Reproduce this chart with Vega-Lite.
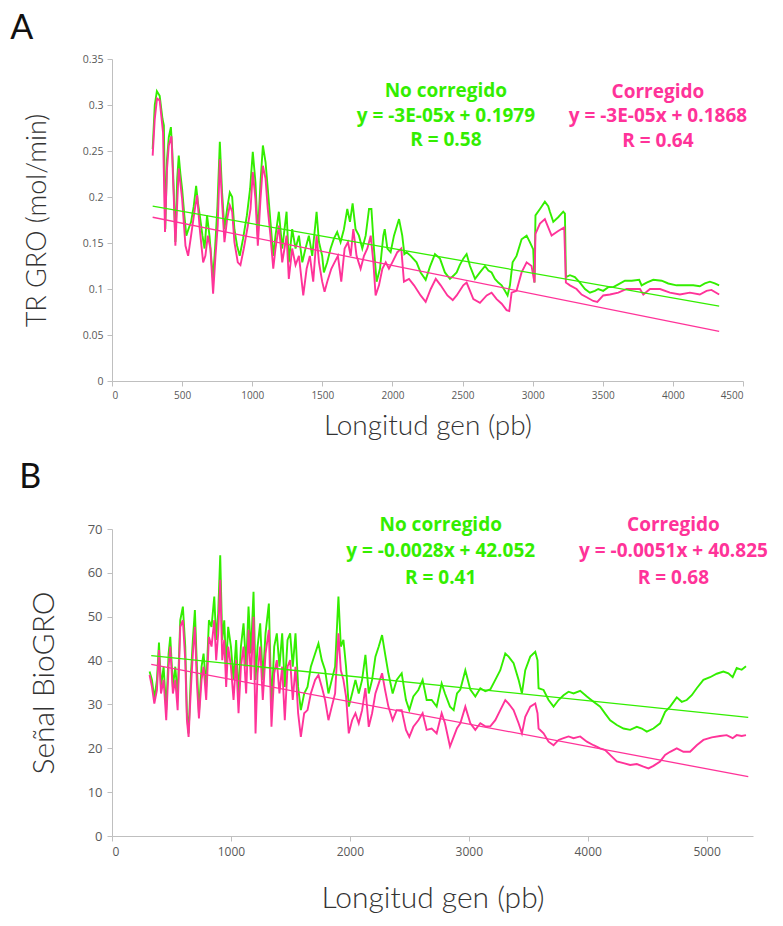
{
  "$schema": "https://vega.github.io/schema/vega-lite/v6.json",
  "padding": {"left": 10, "top": 12, "right": 0, "bottom": 0},
  "background": "white",
  "spacing": 21,
  "config": {
    "view": {"stroke": null},
    "axis": {
      "grid": false,
      "domainColor": "#BFBFBF",
      "tickColor": "#BFBFBF",
      "tickSize": 5,
      "labelColor": "#595959",
      "labelFont": "Liberation Sans Narrow, Open Sans",
      "titleFont": "Lato",
      "titleFontWeight": 300,
      "titleColor": "#333333"
    },
    "title": {"font": "Lato", "fontWeight": "normal", "color": "#111111", "anchor": "start", "frame": "bounds"}
  },
  "datasets": {
    "A_sin": [
      {"x":290,"y":0.252},{"x":305,"y":0.300},{"x":320,"y":0.315},{"x":340,"y":0.310},{"x":360,"y":0.285},{"x":370,"y":0.278},{"x":380,"y":0.165},{"x":392,"y":0.240},{"x":405,"y":0.265},{"x":420,"y":0.276},{"x":430,"y":0.250},{"x":440,"y":0.209},{"x":452,"y":0.151},{"x":465,"y":0.220},{"x":476,"y":0.245},{"x":488,"y":0.225},{"x":500,"y":0.209},{"x":516,"y":0.180},{"x":530,"y":0.158},{"x":545,"y":0.165},{"x":564,"y":0.173},{"x":583,"y":0.190},{"x":600,"y":0.212},{"x":612,"y":0.195},{"x":626,"y":0.180},{"x":645,"y":0.158},{"x":660,"y":0.144},{"x":678,"y":0.180},{"x":695,"y":0.158},{"x":720,"y":0.111},{"x":735,"y":0.144},{"x":752,"y":0.190},{"x":769,"y":0.260},{"x":785,"y":0.205},{"x":802,"y":0.165},{"x":821,"y":0.187},{"x":840,"y":0.205},{"x":857,"y":0.200},{"x":873,"y":0.165},{"x":892,"y":0.147},{"x":911,"y":0.136},{"x":935,"y":0.155},{"x":962,"y":0.180},{"x":985,"y":0.209},{"x":1004,"y":0.249},{"x":1023,"y":0.216},{"x":1040,"y":0.158},{"x":1059,"y":0.216},{"x":1076,"y":0.256},{"x":1095,"y":0.238},{"x":1111,"y":0.209},{"x":1130,"y":0.173},{"x":1150,"y":0.136},{"x":1166,"y":0.158},{"x":1190,"y":0.184},{"x":1214,"y":0.144},{"x":1245,"y":0.184},{"x":1261,"y":0.129},{"x":1285,"y":0.165},{"x":1309,"y":0.144},{"x":1333,"y":0.158},{"x":1357,"y":0.129},{"x":1380,"y":0.144},{"x":1404,"y":0.158},{"x":1428,"y":0.136},{"x":1459,"y":0.184},{"x":1476,"y":0.151},{"x":1499,"y":0.136},{"x":1511,"y":0.118},{"x":1535,"y":0.129},{"x":1559,"y":0.144},{"x":1583,"y":0.155},{"x":1606,"y":0.162},{"x":1630,"y":0.151},{"x":1654,"y":0.165},{"x":1678,"y":0.187},{"x":1697,"y":0.173},{"x":1716,"y":0.193},{"x":1737,"y":0.165},{"x":1761,"y":0.158},{"x":1785,"y":0.144},{"x":1809,"y":0.158},{"x":1833,"y":0.187},{"x":1850,"y":0.187},{"x":1868,"y":0.144},{"x":1887,"y":0.108},{"x":1911,"y":0.122},{"x":1935,"y":0.158},{"x":1945,"y":0.165},{"x":1964,"y":0.144},{"x":1987,"y":0.140},{"x":2011,"y":0.158},{"x":2047,"y":0.176},{"x":2070,"y":0.158},{"x":2085,"y":0.138},{"x":2101,"y":0.140},{"x":2130,"y":0.136},{"x":2172,"y":0.129},{"x":2201,"y":0.118},{"x":2237,"y":0.110},{"x":2267,"y":0.124},{"x":2303,"y":0.138},{"x":2339,"y":0.133},{"x":2374,"y":0.118},{"x":2410,"y":0.111},{"x":2438,"y":0.115},{"x":2458,"y":0.118},{"x":2480,"y":0.126},{"x":2505,"y":0.133},{"x":2529,"y":0.138},{"x":2553,"y":0.125},{"x":2589,"y":0.111},{"x":2624,"y":0.118},{"x":2660,"y":0.125},{"x":2684,"y":0.120},{"x":2707,"y":0.118},{"x":2731,"y":0.111},{"x":2755,"y":0.107},{"x":2779,"y":0.104},{"x":2802,"y":0.098},{"x":2821,"y":0.093},{"x":2838,"y":0.104},{"x":2857,"y":0.129},{"x":2885,"y":0.136},{"x":2921,"y":0.154},{"x":2957,"y":0.158},{"x":2980,"y":0.151},{"x":3004,"y":0.143},{"x":3013,"y":0.107},{"x":3020,"y":0.180},{"x":3052,"y":0.187},{"x":3087,"y":0.195},{"x":3111,"y":0.190},{"x":3123,"y":0.184},{"x":3147,"y":0.173},{"x":3182,"y":0.178},{"x":3218,"y":0.184},{"x":3230,"y":0.182},{"x":3237,"y":0.113},{"x":3266,"y":0.115},{"x":3301,"y":0.113},{"x":3337,"y":0.107},{"x":3373,"y":0.100},{"x":3408,"y":0.096},{"x":3444,"y":0.098},{"x":3468,"y":0.100},{"x":3503,"y":0.098},{"x":3539,"y":0.102},{"x":3575,"y":0.102},{"x":3611,"y":0.105},{"x":3658,"y":0.109},{"x":3706,"y":0.109},{"x":3760,"y":0.110},{"x":3777,"y":0.104},{"x":3813,"y":0.107},{"x":3860,"y":0.110},{"x":3920,"y":0.109},{"x":3967,"y":0.106},{"x":4026,"y":0.104},{"x":4086,"y":0.104},{"x":4145,"y":0.104},{"x":4192,"y":0.103},{"x":4228,"y":0.106},{"x":4264,"y":0.108},{"x":4299,"y":0.106},{"x":4330,"y":0.104}
    ],
    "A_cor": [
      {"x":290,"y":0.245},{"x":305,"y":0.285},{"x":321,"y":0.307},{"x":340,"y":0.305},{"x":364,"y":0.270},{"x":378,"y":0.162},{"x":392,"y":0.230},{"x":405,"y":0.256},{"x":424,"y":0.266},{"x":440,"y":0.202},{"x":452,"y":0.147},{"x":476,"y":0.231},{"x":500,"y":0.198},{"x":524,"y":0.147},{"x":543,"y":0.136},{"x":564,"y":0.158},{"x":588,"y":0.184},{"x":607,"y":0.202},{"x":626,"y":0.165},{"x":650,"y":0.129},{"x":666,"y":0.136},{"x":683,"y":0.158},{"x":702,"y":0.144},{"x":721,"y":0.095},{"x":738,"y":0.136},{"x":754,"y":0.169},{"x":769,"y":0.241},{"x":785,"y":0.194},{"x":802,"y":0.151},{"x":821,"y":0.176},{"x":840,"y":0.191},{"x":857,"y":0.184},{"x":873,"y":0.151},{"x":897,"y":0.129},{"x":916,"y":0.126},{"x":940,"y":0.144},{"x":969,"y":0.169},{"x":988,"y":0.187},{"x":1004,"y":0.227},{"x":1023,"y":0.198},{"x":1040,"y":0.147},{"x":1059,"y":0.198},{"x":1076,"y":0.234},{"x":1095,"y":0.220},{"x":1111,"y":0.187},{"x":1130,"y":0.158},{"x":1150,"y":0.122},{"x":1166,"y":0.144},{"x":1190,"y":0.169},{"x":1214,"y":0.129},{"x":1245,"y":0.158},{"x":1261,"y":0.111},{"x":1285,"y":0.144},{"x":1309,"y":0.126},{"x":1333,"y":0.136},{"x":1364,"y":0.093},{"x":1388,"y":0.122},{"x":1411,"y":0.136},{"x":1435,"y":0.108},{"x":1459,"y":0.158},{"x":1476,"y":0.129},{"x":1499,"y":0.108},{"x":1516,"y":0.097},{"x":1535,"y":0.108},{"x":1564,"y":0.122},{"x":1587,"y":0.129},{"x":1611,"y":0.136},{"x":1635,"y":0.108},{"x":1659,"y":0.144},{"x":1683,"y":0.151},{"x":1702,"y":0.136},{"x":1721,"y":0.165},{"x":1744,"y":0.136},{"x":1773,"y":0.122},{"x":1797,"y":0.136},{"x":1821,"y":0.144},{"x":1845,"y":0.158},{"x":1864,"y":0.129},{"x":1880,"y":0.093},{"x":1904,"y":0.104},{"x":1928,"y":0.122},{"x":1952,"y":0.129},{"x":1975,"y":0.122},{"x":1999,"y":0.129},{"x":2035,"y":0.140},{"x":2063,"y":0.144},{"x":2082,"y":0.108},{"x":2118,"y":0.111},{"x":2154,"y":0.104},{"x":2201,"y":0.093},{"x":2237,"y":0.086},{"x":2273,"y":0.100},{"x":2309,"y":0.111},{"x":2344,"y":0.104},{"x":2392,"y":0.093},{"x":2430,"y":0.088},{"x":2458,"y":0.093},{"x":2505,"y":0.104},{"x":2529,"y":0.107},{"x":2577,"y":0.089},{"x":2624,"y":0.085},{"x":2672,"y":0.093},{"x":2707,"y":0.096},{"x":2743,"y":0.089},{"x":2779,"y":0.084},{"x":2814,"y":0.077},{"x":2833,"y":0.076},{"x":2850,"y":0.096},{"x":2885,"y":0.098},{"x":2921,"y":0.118},{"x":2957,"y":0.129},{"x":2992,"y":0.125},{"x":3013,"y":0.107},{"x":3020,"y":0.160},{"x":3052,"y":0.171},{"x":3087,"y":0.176},{"x":3135,"y":0.158},{"x":3182,"y":0.163},{"x":3225,"y":0.167},{"x":3237,"y":0.107},{"x":3266,"y":0.104},{"x":3313,"y":0.100},{"x":3349,"y":0.094},{"x":3385,"y":0.091},{"x":3432,"y":0.087},{"x":3461,"y":0.086},{"x":3503,"y":0.093},{"x":3551,"y":0.094},{"x":3611,"y":0.096},{"x":3670,"y":0.100},{"x":3765,"y":0.100},{"x":3789,"y":0.094},{"x":3837,"y":0.100},{"x":3908,"y":0.100},{"x":3979,"y":0.096},{"x":4050,"y":0.094},{"x":4121,"y":0.096},{"x":4192,"y":0.094},{"x":4240,"y":0.098},{"x":4275,"y":0.099},{"x":4330,"y":0.094}
    ],
    "B_sin": [
      {"x":316,"y":37.5},{"x":336,"y":35.6},{"x":356,"y":31.4},{"x":378,"y":35.6},{"x":395,"y":44.1},{"x":412,"y":34.0},{"x":434,"y":38.6},{"x":456,"y":28.7},{"x":476,"y":41.6},{"x":490,"y":45.4},{"x":512,"y":34.0},{"x":532,"y":38.6},{"x":552,"y":31.8},{"x":574,"y":49.2},{"x":596,"y":52.3},{"x":616,"y":43.2},{"x":630,"y":28.0},{"x":644,"y":23.4},{"x":664,"y":37.1},{"x":680,"y":44.7},{"x":697,"y":51.5},{"x":714,"y":38.6},{"x":731,"y":28.0},{"x":753,"y":38.6},{"x":770,"y":41.6},{"x":792,"y":34.0},{"x":815,"y":49.2},{"x":837,"y":47.7},{"x":860,"y":54.6},{"x":876,"y":44.7},{"x":893,"y":50.8},{"x":910,"y":64.0},{"x":927,"y":44.7},{"x":944,"y":49.2},{"x":960,"y":38.6},{"x":977,"y":47.7},{"x":1000,"y":43.2},{"x":1022,"y":35.6},{"x":1044,"y":44.7},{"x":1064,"y":31.8},{"x":1084,"y":43.2},{"x":1106,"y":48.5},{"x":1128,"y":38.6},{"x":1148,"y":52.3},{"x":1168,"y":41.6},{"x":1190,"y":55.7},{"x":1207,"y":35.6},{"x":1224,"y":43.2},{"x":1246,"y":48.5},{"x":1268,"y":35.6},{"x":1291,"y":46.2},{"x":1319,"y":53.0},{"x":1341,"y":29.5},{"x":1364,"y":43.2},{"x":1386,"y":46.2},{"x":1408,"y":38.6},{"x":1431,"y":46.2},{"x":1453,"y":34.0},{"x":1476,"y":44.7},{"x":1498,"y":46.2},{"x":1520,"y":38.6},{"x":1543,"y":46.2},{"x":1565,"y":34.0},{"x":1588,"y":28.7},{"x":1616,"y":32.5},{"x":1644,"y":34.0},{"x":1672,"y":38.6},{"x":1708,"y":41.6},{"x":1736,"y":43.9},{"x":1764,"y":40.1},{"x":1792,"y":37.8},{"x":1820,"y":32.5},{"x":1848,"y":35.6},{"x":1876,"y":38.6},{"x":1904,"y":54.6},{"x":1924,"y":43.2},{"x":1946,"y":44.7},{"x":1968,"y":38.6},{"x":1991,"y":29.5},{"x":2019,"y":32.5},{"x":2047,"y":35.6},{"x":2075,"y":32.5},{"x":2103,"y":35.6},{"x":2131,"y":41.3},{"x":2159,"y":32.5},{"x":2187,"y":35.6},{"x":2215,"y":40.9},{"x":2243,"y":43.2},{"x":2271,"y":45.8},{"x":2296,"y":41.6},{"x":2324,"y":37.1},{"x":2360,"y":32.5},{"x":2394,"y":35.6},{"x":2436,"y":37.1},{"x":2472,"y":31.0},{"x":2500,"y":28.7},{"x":2534,"y":31.8},{"x":2576,"y":33.3},{"x":2612,"y":35.6},{"x":2646,"y":31.0},{"x":2688,"y":31.0},{"x":2730,"y":29.5},{"x":2772,"y":34.8},{"x":2800,"y":32.5},{"x":2842,"y":29.5},{"x":2873,"y":28.7},{"x":2901,"y":32.5},{"x":2929,"y":33.4},{"x":2971,"y":37.8},{"x":3013,"y":33.4},{"x":3055,"y":31.8},{"x":3097,"y":33.7},{"x":3139,"y":33.0},{"x":3181,"y":33.4},{"x":3223,"y":35.6},{"x":3265,"y":37.8},{"x":3307,"y":41.6},{"x":3335,"y":40.9},{"x":3377,"y":39.4},{"x":3419,"y":35.6},{"x":3447,"y":32.5},{"x":3475,"y":37.8},{"x":3517,"y":40.9},{"x":3559,"y":42.0},{"x":3578,"y":40.1},{"x":3587,"y":33.7},{"x":3629,"y":33.3},{"x":3671,"y":31.0},{"x":3713,"y":29.5},{"x":3755,"y":31.0},{"x":3797,"y":32.1},{"x":3839,"y":32.9},{"x":3881,"y":32.5},{"x":3937,"y":33.1},{"x":3993,"y":31.8},{"x":4049,"y":30.6},{"x":4105,"y":29.5},{"x":4147,"y":27.9},{"x":4189,"y":26.4},{"x":4245,"y":25.3},{"x":4301,"y":24.5},{"x":4357,"y":24.2},{"x":4413,"y":24.9},{"x":4455,"y":24.5},{"x":4497,"y":23.8},{"x":4553,"y":24.5},{"x":4609,"y":25.7},{"x":4651,"y":28.3},{"x":4693,"y":29.5},{"x":4749,"y":31.6},{"x":4791,"y":30.6},{"x":4833,"y":31.0},{"x":4875,"y":32.1},{"x":4917,"y":33.7},{"x":4973,"y":35.6},{"x":5029,"y":36.2},{"x":5085,"y":37.0},{"x":5141,"y":37.5},{"x":5183,"y":37.1},{"x":5219,"y":36.2},{"x":5253,"y":38.3},{"x":5295,"y":37.9},{"x":5331,"y":38.7}
    ],
    "B_cor": [
      {"x":316,"y":36.7},{"x":336,"y":34.0},{"x":356,"y":30.2},{"x":378,"y":33.3},{"x":395,"y":42.4},{"x":412,"y":32.5},{"x":434,"y":35.6},{"x":456,"y":26.4},{"x":476,"y":38.6},{"x":490,"y":43.2},{"x":512,"y":32.5},{"x":532,"y":35.6},{"x":552,"y":28.7},{"x":574,"y":47.7},{"x":596,"y":49.2},{"x":616,"y":40.1},{"x":630,"y":26.4},{"x":644,"y":22.6},{"x":664,"y":34.0},{"x":680,"y":41.6},{"x":697,"y":47.7},{"x":714,"y":34.8},{"x":731,"y":26.8},{"x":753,"y":35.6},{"x":770,"y":38.6},{"x":792,"y":31.0},{"x":815,"y":45.4},{"x":837,"y":43.2},{"x":860,"y":49.2},{"x":876,"y":40.1},{"x":893,"y":46.2},{"x":910,"y":58.4},{"x":927,"y":40.1},{"x":944,"y":44.7},{"x":960,"y":34.0},{"x":977,"y":43.2},{"x":1000,"y":38.6},{"x":1022,"y":31.0},{"x":1044,"y":40.1},{"x":1064,"y":28.0},{"x":1084,"y":38.6},{"x":1106,"y":43.2},{"x":1128,"y":32.5},{"x":1148,"y":47.0},{"x":1168,"y":35.6},{"x":1190,"y":50.0},{"x":1207,"y":23.4},{"x":1224,"y":37.1},{"x":1246,"y":43.2},{"x":1268,"y":31.0},{"x":1291,"y":41.6},{"x":1319,"y":47.0},{"x":1341,"y":24.9},{"x":1364,"y":37.1},{"x":1386,"y":40.1},{"x":1408,"y":32.5},{"x":1431,"y":38.6},{"x":1453,"y":26.4},{"x":1476,"y":38.6},{"x":1498,"y":40.1},{"x":1520,"y":31.0},{"x":1543,"y":38.6},{"x":1565,"y":28.0},{"x":1588,"y":22.6},{"x":1616,"y":28.0},{"x":1644,"y":28.7},{"x":1672,"y":32.5},{"x":1708,"y":35.6},{"x":1736,"y":36.7},{"x":1764,"y":34.0},{"x":1792,"y":31.0},{"x":1820,"y":26.4},{"x":1848,"y":29.5},{"x":1876,"y":32.5},{"x":1904,"y":46.2},{"x":1924,"y":37.8},{"x":1946,"y":35.6},{"x":1968,"y":31.8},{"x":1991,"y":23.4},{"x":2019,"y":26.4},{"x":2047,"y":28.0},{"x":2075,"y":25.7},{"x":2103,"y":28.7},{"x":2131,"y":33.7},{"x":2159,"y":24.9},{"x":2187,"y":28.0},{"x":2215,"y":32.5},{"x":2243,"y":34.8},{"x":2271,"y":37.1},{"x":2296,"y":33.3},{"x":2324,"y":29.5},{"x":2360,"y":26.4},{"x":2394,"y":28.7},{"x":2436,"y":28.7},{"x":2472,"y":24.2},{"x":2500,"y":22.6},{"x":2534,"y":24.9},{"x":2576,"y":26.4},{"x":2612,"y":28.0},{"x":2646,"y":24.2},{"x":2688,"y":24.5},{"x":2730,"y":23.4},{"x":2772,"y":28.0},{"x":2800,"y":25.7},{"x":2842,"y":20.4},{"x":2873,"y":22.6},{"x":2901,"y":24.6},{"x":2929,"y":25.7},{"x":2971,"y":29.5},{"x":3013,"y":25.7},{"x":3055,"y":24.2},{"x":3097,"y":25.7},{"x":3139,"y":25.0},{"x":3181,"y":25.0},{"x":3223,"y":26.4},{"x":3265,"y":28.7},{"x":3307,"y":31.0},{"x":3335,"y":30.2},{"x":3377,"y":28.7},{"x":3419,"y":25.7},{"x":3447,"y":23.4},{"x":3475,"y":27.2},{"x":3517,"y":29.5},{"x":3559,"y":30.2},{"x":3578,"y":28.0},{"x":3587,"y":24.5},{"x":3629,"y":23.4},{"x":3671,"y":21.5},{"x":3713,"y":20.7},{"x":3755,"y":21.9},{"x":3797,"y":22.3},{"x":3839,"y":22.7},{"x":3881,"y":22.3},{"x":3937,"y":22.7},{"x":3993,"y":21.5},{"x":4049,"y":20.7},{"x":4105,"y":20.0},{"x":4147,"y":19.6},{"x":4203,"y":18.1},{"x":4245,"y":17.0},{"x":4301,"y":16.6},{"x":4357,"y":16.2},{"x":4413,"y":16.4},{"x":4469,"y":15.8},{"x":4511,"y":15.4},{"x":4553,"y":16.0},{"x":4609,"y":17.0},{"x":4651,"y":18.5},{"x":4693,"y":19.2},{"x":4749,"y":20.0},{"x":4805,"y":19.2},{"x":4861,"y":19.2},{"x":4917,"y":20.7},{"x":4973,"y":21.9},{"x":5043,"y":22.5},{"x":5113,"y":22.8},{"x":5169,"y":23.0},{"x":5219,"y":22.3},{"x":5253,"y":23.0},{"x":5295,"y":22.8},{"x":5331,"y":23.0}
    ],
    "A_tend": [
      {"serie":"No corregido","x":290,"y":0.190},{"serie":"No corregido","x":4330,"y":0.0815},
      {"serie":"Corregido","x":290,"y":0.178},{"serie":"Corregido","x":4330,"y":0.054}
    ],
    "B_tend": [
      {"serie":"No corregido","x":330,"y":41.13},{"serie":"No corregido","x":5350,"y":27.07},
      {"serie":"Corregido","x":330,"y":39.14},{"serie":"Corregido","x":5350,"y":13.54}
    ],
    "A_txt": [
      {"serie":"No corregido","x":2381,"y":0.315,"texto":"No corregido"},
      {"serie":"No corregido","x":2381,"y":0.288,"texto":"y = -3E-05x + 0.1979"},
      {"serie":"No corregido","x":2381,"y":0.262,"texto":"R = 0.58"},
      {"serie":"Corregido","x":3893,"y":0.314,"texto":"Corregido"},
      {"serie":"Corregido","x":3893,"y":0.288,"texto":"y = -3E-05x + 0.1868"},
      {"serie":"Corregido","x":3893,"y":0.261,"texto":"R = 0.64"}
    ],
    "B_txt": [
      {"serie":"No corregido","x":2764,"y":70.8,"texto":"No corregido"},
      {"serie":"No corregido","x":2764,"y":65.0,"texto":"y = -0.0028x + 42.052"},
      {"serie":"No corregido","x":2764,"y":58.8,"texto":"R = 0.41"},
      {"serie":"Corregido","x":4721,"y":70.8,"texto":"Corregido"},
      {"serie":"Corregido","x":4721,"y":65.0,"texto":"y = -0.0051x + 40.825"},
      {"serie":"Corregido","x":4721,"y":58.8,"texto":"R = 0.68"}
    ]
  },
  "vconcat": [
    {
      "width": 631,
      "height": 322,
      "title": {"text": "A", "fontSize": 34, "offset": 8, "dx": -13},
      "encoding": {
        "x": {"field": "x", "type": "quantitative", "scale": {"domain": [0, 4500], "nice": false},
          "axis": {"values": [0,500,1000,1500,2000,2500,3000,3500,4000,4500], "format": "d", "labelFontSize": 10, "title": "Longitud gen (pb)", "titleFontSize": 28, "titlePadding": 12, "labelPadding": 4}},
        "y": {"field": "y", "type": "quantitative", "scale": {"domain": [0, 0.35], "nice": false},
          "axis": {"values": [0,0.05,0.1,0.15,0.2,0.25,0.3,0.35], "format": "~g", "labelFontSize": 10.5, "title": "TR GRO (mol/min)", "titleFontSize": 27, "titlePadding": 31, "labelPadding": 4}}
      },
      "layer": [
        {"data": {"name": "A_sin"}, "mark": {"type": "line", "color": "#33EE00", "strokeWidth": 1.9}},
        {"data": {"name": "A_cor"}, "mark": {"type": "line", "color": "#FF3399", "strokeWidth": 1.9}},
        {"data": {"name": "A_tend"}, "mark": {"type": "line", "strokeWidth": 1.3},
          "encoding": {"detail": {"field": "serie"}, "color": {"field": "serie", "type": "nominal", "scale": {"domain": ["No corregido", "Corregido"], "range": ["#33EE00", "#FF3399"]}, "legend": null}}},
        {"data": {"name": "A_txt"}, "mark": {"type": "text", "font": "Open Sans", "fontWeight": "bold", "fontSize": 19, "align": "center", "baseline": "middle"},
          "encoding": {"text": {"field": "texto"}, "color": {"field": "serie", "type": "nominal", "scale": {"domain": ["No corregido", "Corregido"], "range": ["#33EE00", "#FF3399"]}, "legend": null}}}
      ]
    },
    {
      "width": 641,
      "height": 307,
      "title": {"text": "B", "fontSize": 34, "offset": 21, "dx": -10},
      "encoding": {
        "x": {"field": "x", "type": "quantitative", "scale": {"domain": [0, 5390], "nice": false},
          "axis": {"values": [0,1000,2000,3000,4000,5000], "format": "d", "labelFontSize": 12, "title": "Longitud gen (pb)", "titleFontSize": 30, "titlePadding": 26, "labelPadding": 5}},
        "y": {"field": "y", "type": "quantitative", "scale": {"domain": [0, 70], "nice": false},
          "axis": {"values": [0,10,20,30,40,50,60,70], "format": "d", "labelFontSize": 13, "title": "Señal BioGRO", "titleFontSize": 30, "titlePadding": 28, "labelPadding": 5}}
      },
      "layer": [
        {"data": {"name": "B_sin"}, "mark": {"type": "line", "color": "#33EE00", "strokeWidth": 1.9}},
        {"data": {"name": "B_cor"}, "mark": {"type": "line", "color": "#FF3399", "strokeWidth": 1.9}},
        {"data": {"name": "B_tend"}, "mark": {"type": "line", "strokeWidth": 1.3},
          "encoding": {"detail": {"field": "serie"}, "color": {"field": "serie", "type": "nominal", "scale": {"domain": ["No corregido", "Corregido"], "range": ["#33EE00", "#FF3399"]}, "legend": null}}},
        {"data": {"name": "B_txt"}, "mark": {"type": "text", "font": "Open Sans", "fontWeight": "bold", "fontSize": 19, "align": "center", "baseline": "middle"},
          "encoding": {"text": {"field": "texto"}, "color": {"field": "serie", "type": "nominal", "scale": {"domain": ["No corregido", "Corregido"], "range": ["#33EE00", "#FF3399"]}, "legend": null}}}
      ]
    }
  ],
  "resolve": {"scale": {"color": "independent"}}
}
